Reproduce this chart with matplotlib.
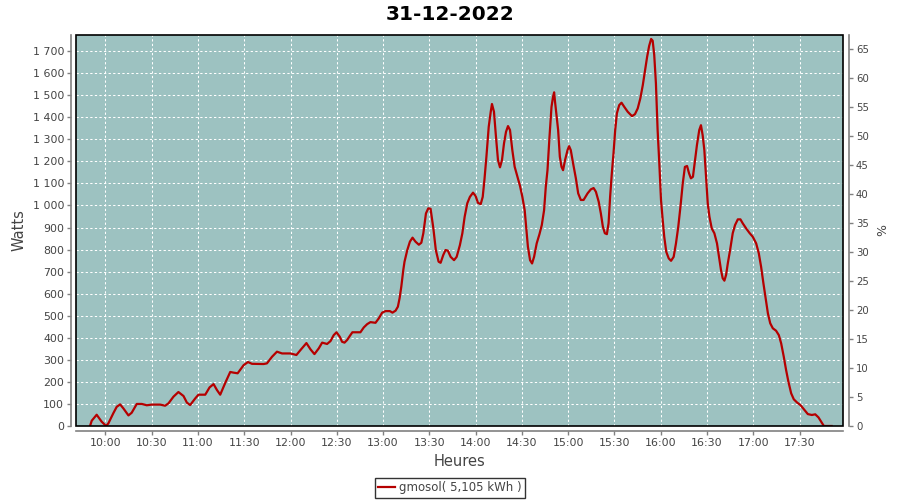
import matplotlib
matplotlib.use("Agg")
import matplotlib.pyplot as plt
from matplotlib.patches import Rectangle
from matplotlib.lines import Line2D
from matplotlib.ticker import FuncFormatter, FixedLocator

title = "31-12-2022"
series_name = "gmosol( 5,105 kWh )"

# minutes after 10:00
minutes_after_10h = [
    -10.0, -8.9, -5.7, -2.5, 0.4, 1.9, 5.1, 7.3, 9.5, 11.6, 14.9, 17.0, 20.3, 23.6, 26.8, 30.0,
    35.5, 38.7, 40.9, 44.1, 47.3, 50.6, 52.8, 54.9, 58.2, 60.3, 64.7, 67.5, 70.1, 72.3, 74.4,
    77.7, 80.9, 83.0, 85.7, 89.6, 92.4, 95.0, 102.5, 104.7, 108.0, 111.2, 114.5, 119.9, 123.8,
    126.4, 130.3, 132.9, 135.5, 138.3, 140.5, 143.7, 145.9, 148.0, 149.8, 151.9, 153.4, 155.0,
    156.7, 158.4, 160.1, 165.3, 167.5, 169.7, 171.8, 175.1, 177.2, 179.4, 181.6, 184.4, 186.1,
    188.1, 189.6, 190.7, 191.8, 193.1, 193.9, 195.7, 197.4, 199.1, 201.0, 203.2, 204.8, 206.1,
    207.8, 209.3, 210.8, 212.6, 214.2, 216.0, 217.3, 219.0, 220.5, 222.0, 223.8, 226.0, 227.7,
    229.8, 231.4, 232.9, 234.6, 236.3, 238.3, 240.0, 241.5, 243.3, 244.6, 245.7, 247.0, 248.5,
    249.8, 250.6, 251.9, 253.2, 254.5, 255.8, 257.1, 258.4, 259.7, 261.0, 262.3, 263.8, 265.3,
    267.1, 268.8, 270.3, 271.8, 272.9, 273.9, 275.3, 276.6, 277.9, 279.6, 281.4, 282.9, 284.4,
    285.5, 286.6, 287.9, 289.2, 290.2, 290.9, 291.5, 292.6, 293.5, 294.6, 295.7, 296.7, 298.0,
    299.6, 300.6, 301.7, 303.2, 305.0, 306.5, 308.2, 310.0, 312.6, 314.7, 316.5, 318.0, 319.8,
    321.2, 322.5, 323.8, 325.1, 326.2, 327.2, 328.3, 329.4, 330.5, 331.6, 333.1, 334.6, 336.4,
    338.6, 341.4, 343.3, 345.1, 346.8, 348.4, 349.9, 351.2, 352.5, 353.8, 354.8, 355.8, 356.9,
    358.0, 359.1, 360.2, 361.3, 362.3, 363.6, 365.2, 366.7, 368.4, 369.9, 371.4, 372.8, 374.3,
    375.7, 377.1, 378.4, 379.6, 380.9, 382.0, 383.5, 385.0, 386.1, 387.2, 388.3, 389.4, 390.5,
    391.6, 393.1, 394.8, 396.5, 397.8, 399.1, 400.2, 401.3, 402.4, 403.5, 405.0, 406.7, 408.2,
    410.0, 411.7, 413.2, 415.4, 417.5, 419.7, 421.9, 423.6, 425.1, 426.6, 428.2, 429.5, 431.0,
    432.7, 434.8, 436.6, 438.1, 439.8, 441.3, 442.8, 444.6, 446.3, 448.5, 450.6, 452.8, 455.4,
    458.0, 460.2, 462.3, 464.5, 465.8, 470.8,
]
watts = [
    0, 24, 51, 20, 0, 12, 58, 87, 98, 80, 48, 60, 100, 100, 94, 97,
    97, 92, 103, 133, 154, 136, 106, 95, 125, 142, 142, 175, 190, 163, 142,
    196, 245, 242, 239, 276, 290, 282, 281, 284, 314, 337, 329, 329, 322,
    344, 376, 348, 326, 352, 378, 372, 385, 412, 425, 405, 382, 378,
    390, 408, 425, 425, 447, 462, 471, 468, 488, 514, 521, 521, 514,
    523, 541, 579, 631, 707, 745, 798, 836, 854, 836, 822, 831, 874,
    964, 987, 985, 896, 798, 745, 740, 775, 798, 795, 767, 752, 767,
    820, 874, 949, 1010, 1039, 1058, 1043, 1012, 1006, 1039, 1115, 1221, 1357,
    1425, 1460, 1425, 1311, 1206, 1173, 1206, 1281, 1334, 1360, 1342, 1251, 1176,
    1130, 1088, 1039, 979, 889, 813, 752, 737, 767, 828, 870, 911, 979,
    1085, 1160, 1311, 1447, 1493, 1513, 1470, 1402, 1342, 1221, 1175, 1160, 1206,
    1251, 1269, 1251, 1191, 1123, 1055, 1025, 1025, 1055, 1073, 1079, 1062, 1017,
    964, 904, 874, 870, 919, 1039, 1145, 1236, 1342, 1418, 1455, 1466, 1447,
    1425, 1405, 1414, 1440, 1486, 1546, 1614, 1674, 1723, 1755, 1747, 1683, 1554,
    1342, 1191, 1025, 934, 858, 790, 760, 749, 767, 828, 904, 994, 1100,
    1175, 1179, 1145, 1123, 1130, 1191, 1274, 1342, 1364, 1319, 1251, 1130, 1010,
    949, 896, 874, 828, 767, 707, 670, 659, 685, 737, 798, 874, 911,
    937, 937, 919, 896, 876, 858, 828, 783, 722, 647, 571, 511, 466,
    443, 432, 412, 375, 314, 254, 201, 148, 121, 106, 95, 76, 54,
    50, 53, 39, 15, 0, 0,
]

time_ticks = ["10:00", "10:30", "11:00", "11:30", "12:00", "12:30", "13:00", "13:30",
              "14:00", "14:30", "15:00", "15:30", "16:00", "16:30", "17:00", "17:30"]
watt_ticks = list(range(0, 1800, 100))
pct_ticks = list(range(0, 70, 5))

def to_min(s):
    h, m = s.split(":")
    return int(h) * 60 + int(m)

x = [600 + t for t in minutes_after_10h]

plt.rcParams['font.family'] = ['DejaVu Sans']
fig = plt.figure(figsize=(9, 5), dpi=100)
fig.patch.set_facecolor("white")

W, H = 900, 500
L, R, T, B = 76, 843, 35, 426
ax = fig.add_axes([L / W, 1 - B / H, (R - L) / W, (B - T) / H])
ax.set_facecolor("#9dc2c1")

ymax = 1773
ax.set_xlim(580.9, 1078.2)
ax.set_ylim(0, ymax)

ax.plot(x, watts, color="#b50000", lw=1.6, solid_joinstyle="round", zorder=3)

ax.xaxis.set_major_locator(FixedLocator([to_min(s) for s in time_ticks]))
ax.set_xticklabels(time_ticks)
ax.yaxis.set_major_locator(FixedLocator(watt_ticks))
ax.yaxis.set_major_formatter(FuncFormatter(lambda v, p: f"{int(v):,}".replace(",", " ")))

ax.grid(True, color="white", lw=0.75, linestyle=(0, (2.2, 2.2)))
ax.set_axisbelow(True)

gray = "#808080"
txt = "#444444"
for s in ["top", "right"]:
    ax.spines[s].set_visible(False)
for s in ["left", "bottom"]:
    ax.spines[s].set_position(("outward", 3.6))
    ax.spines[s].set_color(gray)
    ax.spines[s].set_linewidth(1.2)
ax.tick_params(axis="both", colors=gray, labelcolor=txt, labelsize=7.9, length=3, width=1, direction="out", pad=2)

ax.add_patch(Rectangle((0, 0), 1, 1, transform=ax.transAxes, fill=False,
                       edgecolor="black", lw=1.2, clip_on=False, zorder=5))

ax2 = ax.twinx()
ax2.set_ylim(0, 67.4)
ax2.yaxis.set_major_locator(FixedLocator(pct_ticks))
for s in ["top", "left", "bottom"]:
    ax2.spines[s].set_visible(False)
ax2.spines["right"].set_position(("outward", 4.3))
ax2.spines["right"].set_color(gray)
ax2.spines["right"].set_linewidth(1.2)
ax2.tick_params(axis="y", colors=gray, labelcolor=txt, labelsize=7.3, length=3, width=1, pad=2)

ax.set_ylabel("Watts", fontsize=10.5, color=txt, labelpad=4)
ax.set_xlabel("Heures", fontsize=10.5, color=txt, labelpad=4)
ax2.set_ylabel("%", fontsize=9, color=txt, labelpad=5)

fig.text(0.5, 1 - 14 / H, title, ha="center", va="center", fontsize=14.5, fontweight="bold", color="black")

handle = Line2D([], [], color="#b50000", lw=1.6)
leg = fig.legend([handle], [series_name], loc="center", bbox_to_anchor=(0.5, 1 - 488 / H),
                 frameon=True, fancybox=False, edgecolor="black", fontsize=8.5,
                 handlelength=1.4, handletextpad=0.4, borderpad=0.3, borderaxespad=0)
leg.get_frame().set_linewidth(1.0)
for t in leg.get_texts():
    t.set_color(txt)

fig.savefig("out.png", dpi=100)
